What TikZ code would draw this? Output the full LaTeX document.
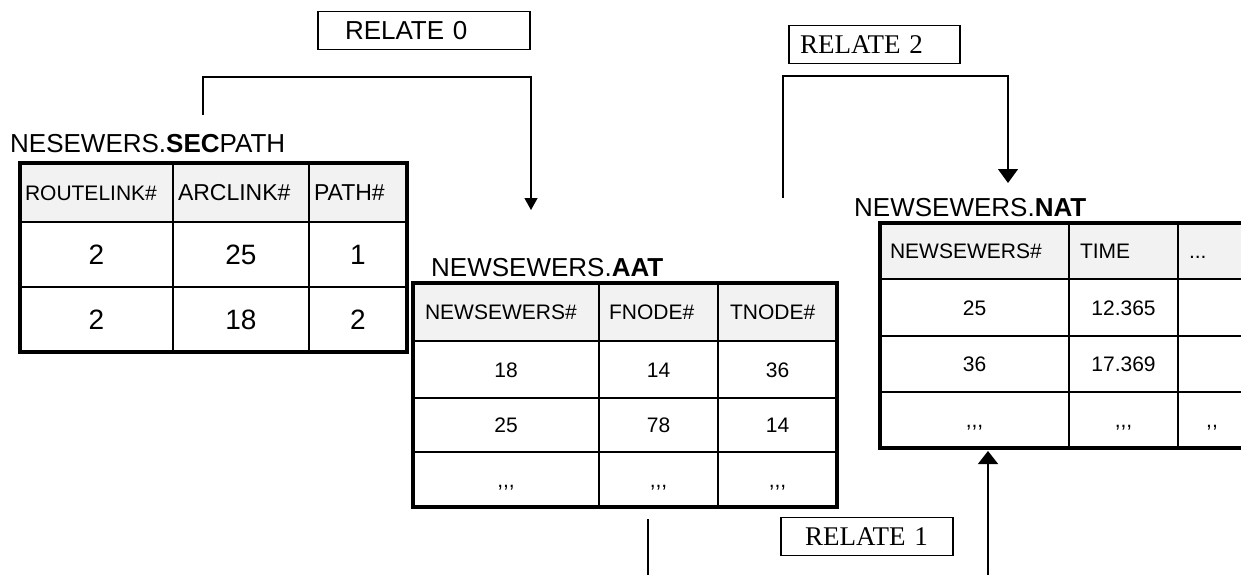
\documentclass[tikz,border=0pt]{standalone}
\usepackage{fontspec}
\setmainfont{Liberation Sans}
\newfontfamily\relfont{Liberation Serif}
\newfontfamily\boxfont{Liberation Sans}
\usepackage{tikz}
\usetikzlibrary{arrows.meta}
\usetikzlibrary{positioning}

\definecolor{headgray}{HTML}{F2F2F2}

\tikzset{
	cell/.style = {draw, line width=1.5pt, fill=white, inner sep=0pt, outer sep=0pt, text depth=0pt},
	hcell/.style = {cell, fill=headgray, align=left},
	frame/.style = {draw, line width=3.5pt},
	relbox/.style = {draw, line width=1.2pt, inner ysep=0pt, align=left, minimum height=38pt},
	link/.style = {line width=1.3pt},
}

\begin{document}
\begin{tikzpicture}[x=1pt, y=-1pt]
	\useasboundingbox (0,0) rectangle (1241,575);
	\clip (0,0) rectangle (1241,575);

	% table titles
	\begin{scope}[every node/.style = {anchor=base west, inner sep=0pt, font=\fontsize{26}{30}\selectfont}]
		\node (tsec) at (10,152) {NESEWERS.\textbf{SEC}PATH};
		\node (taat) at (431,276) {NEWSEWERS.\textbf{AAT}};
		\node (tnat) at (854,216) {NEWSEWERS.\textbf{NAT}};
	\end{scope}

	% SECPATH
	\begin{scope}[every node/.append style = {text height=16pt}]
		\node[hcell, minimum height=59pt, text width=143pt, inner xsep=5pt, font=\fontsize{21}{24}\selectfont] (s11) at (96.5,192.5) {ROUTELINK\#};
		\node[hcell, minimum height=59pt, text width=126pt, inner xsep=5pt, font=\fontsize{23}{26}\selectfont] (s12) at (241,192.5) {ARCLINK\#};
		\node[hcell, minimum height=59pt, text width=88pt, inner xsep=5pt, font=\fontsize{23}{26}\selectfont] (s13) at (358,192.5) {PATH\#};
	\end{scope}
	\begin{scope}[every node/.append style = {text height=20pt, font=\fontsize{28}{32}\selectfont}]
		\foreach \r/\y/\a/\b/\c in {2/254.5/2/25/1, 3/319.5/2/18/2} {
			\node[cell, minimum width=153pt, minimum height=65pt] (s\r1) at (96.5,\y) {\a};
			\node[cell, minimum width=136pt, minimum height=65pt] (s\r2) at (241,\y) {\b};
			\node[cell, minimum width=98pt, minimum height=65pt] (s\r3) at (358,\y) {\c};
		}
	\end{scope}
	\draw[frame] (s11.north west) rectangle (s33.south east);

	% AAT
	\begin{scope}[every node/.append style = {text height=15pt, font=\fontsize{21}{24}\selectfont}]
		\node[hcell, minimum height=58pt, text width=162pt, inner xsep=12pt] (a11) at (506,312) {NEWSEWERS\#};
		\node[hcell, minimum height=58pt, text width=99pt, inner xsep=10pt] (a12) at (658.5,312) {FNODE\#};
		\node[hcell, minimum height=58pt, text width=95pt, inner xsep=12pt] (a13) at (777.5,312) {TNODE\#};
		\foreach \r/\y/\h/\a/\b/\c in {2/369.5/57/18/14/36, 3/425/54/25/78/14, 4/479.5/55/{,{},{},}/{,{},{},}/{,{},{},}} {
			\node[cell, minimum width=186pt, minimum height=\h pt] (a\r1) at (506,\y) {\a};
			\node[cell, minimum width=119pt, minimum height=\h pt] (a\r2) at (658.5,\y) {\b};
			\node[cell, minimum width=119pt, minimum height=\h pt] (a\r3) at (777.5,\y) {\c};
		}
	\end{scope}
	\draw[frame] (a11.north west) rectangle (a43.south east);

	% NAT
	\begin{scope}[every node/.append style = {text height=15pt, font=\fontsize{21}{24}\selectfont}]
		\node[hcell, minimum height=56pt, text width=169pt, inner xsep=10pt] (n11) at (974.5,251) {NEWSEWERS\#};
		\node[hcell, minimum height=56pt, text width=87pt, inner xsep=11pt] (n12) at (1123.5,251) {TIME};
		\node[hcell, minimum height=56pt, text width=46pt, inner xsep=11pt] (n13) at (1212,251) {...};
		\foreach \r/\y/\h/\a/\b/\c in {2/307.5/57/25/12.365/{}, 3/364/56/36/17.369/{}, 4/420/56/{,{},{},}/{,{},{},}/{,{},}} {
			\node[cell, minimum width=189pt, minimum height=\h pt] (n\r1) at (974.5,\y) {\a};
			\node[cell, minimum width=109pt, minimum height=\h pt] (n\r2) at (1123.5,\y) {\b};
			\node[cell, minimum width=68pt, minimum height=\h pt] (n\r3) at (1212,\y) {\c};
		}
	\end{scope}
	\draw[frame] (n11.north west) rectangle (n43.south east);

	% relates
	\node[relbox, text width=158pt, inner xsep=27pt, font=\boxfont\fontsize{26}{30}\selectfont] (rel0) at (424,30.5) {RELATE 0};
	\node[relbox, text width=149pt, inner xsep=11pt, font=\relfont\fontsize{27}{30}\selectfont] (rel2) at (874.5,44.5) {RELATE 2};
	\node[relbox, text width=124pt, inner xsep=24pt, font=\relfont\fontsize{27}{30}\selectfont] (rel1) at (867,536.5) {RELATE 1};

	\coordinate (c0a) at (203,115);
	\coordinate (c0b) at (531,210);
	\coordinate (c2a) at (783,198);
	\coordinate (c2b) at (1008,183);
	\coordinate (c1a) at (648,519);
	\coordinate (c1b) at (988,451);

	\draw[link, -{Triangle[length=12pt, width=13pt]}] (c0a) -- ++(0,-38) -| (c0b);
	\draw[link, -{Triangle[length=14pt, width=20pt]}] (c2a) -- ++(0,-122) -| (c2b);
	\draw[link, -{Triangle[length=13pt, width=20pt]}] (c1a) -- ++(0,80) -| (c1b);
\end{tikzpicture}
\end{document}
